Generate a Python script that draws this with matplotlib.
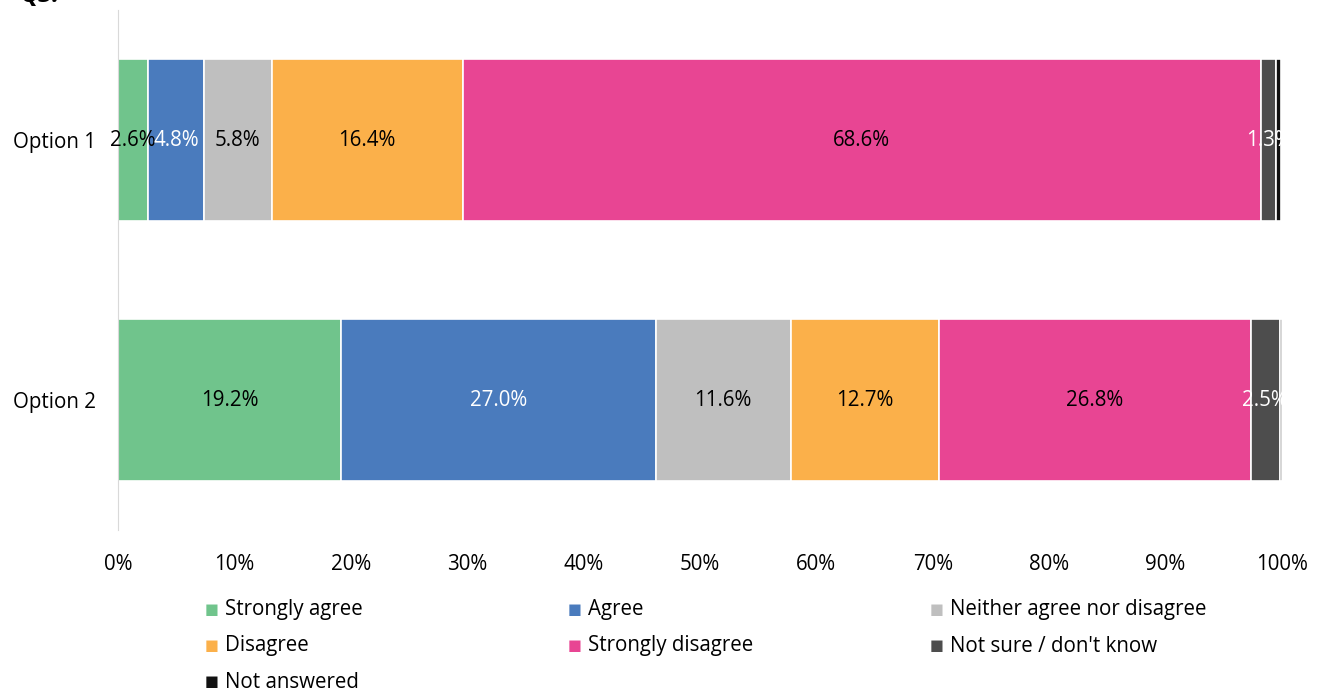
import numpy as np
import matplotlib.pyplot as plt
from matplotlib.ticker import PercentFormatter

plt.rcParams['font.family'] = ['Open Sans', 'DejaVu Sans']

# data
options = ['Option 1', 'Option 2']
series = ['Strongly agree', 'Agree', 'Neither agree nor disagree', 'Disagree',
          'Strongly disagree', "Not sure / don't know", 'Not answered']
values = {
    'Strongly agree': [2.6, 19.2],
    'Agree': [4.8, 27.0],
    'Neither agree nor disagree': [5.8, 11.6],
    'Disagree': [16.4, 12.7],
    'Strongly disagree': [68.6, 26.8],
    "Not sure / don't know": [1.3, 2.5],
    'Not answered': [0.4, 0.2],
}
colors = ['#70c48c', '#4a7bbd', '#bfbfbf', '#fbb04a', '#e84593', '#4d4d4d', '#111111']
label_colors = ['black', 'white', 'black', 'black', 'black', 'white', None]

FS = 14.8

fig = plt.figure(figsize=(13.2, 6.9), dpi=100)
ax = fig.add_axes([118/1320, 1-530/690, (1282-118)/1320, 520/690])

y = np.arange(len(options))
left = np.zeros(len(options))
for s, c, lc in zip(series, colors, label_colors):
    v = np.array(values[s])
    ax.barh(y, v, left=left, height=0.62, color=c, edgecolor='white', linewidth=1.2)
    if lc is not None:
        for yi, (l, vi) in enumerate(zip(left, v)):
            ax.text(l + vi/2, yi, f'{vi:.1f}%', ha='center', va='center',
                    color=lc, fontsize=FS)
    left += v

ax.set_xlim(0, 100)
ax.set_ylim(1.5, -0.5)
ax.set_yticks(y)
ax.set_yticklabels(options, fontsize=FS)
ax.set_xticks(np.arange(0, 101, 10))
ax.xaxis.set_major_formatter(PercentFormatter(decimals=0))
ax.tick_params(axis='x', labelsize=FS, length=0, pad=17)
ax.tick_params(axis='y', length=0, pad=16)
for sp in ['top', 'right', 'bottom']:
    ax.spines[sp].set_visible(False)
ax.spines['left'].set_color('#d9d9d9')

# legend
xs = [205, 568, 930]
ys = [610, 646, 682]
for i, (s, c) in enumerate(zip(series, colors)):
    px, py = xs[i % 3], ys[i // 3]
    fig.text(px/1320, 1-(py-1)/690, '■', color=c, fontsize=10.5, va='center', ha='left',
             family='DejaVu Sans')
    fig.text((px+20)/1320, 1-py/690, s, fontsize=FS, va='center', ha='left')

# title, cut off at the top edge as in the original
fig.text(20/1320, 1-2/690, 'Q3.', fontsize=18, fontweight='bold', fontstyle='italic',
         va='baseline', ha='left')

fig.savefig('out.png', dpi=100)
